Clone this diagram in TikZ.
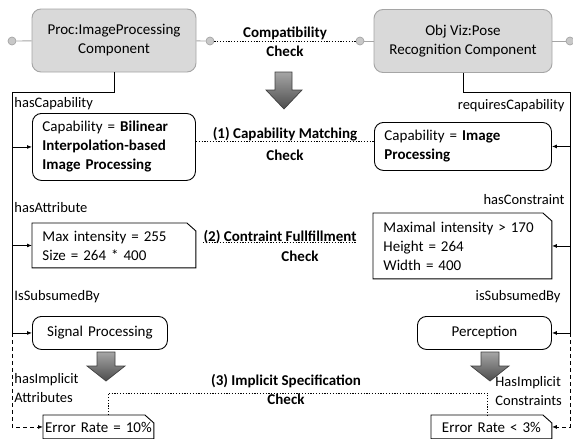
\documentclass[tikz,border=0pt]{standalone}
\usepackage{fontspec}
\setmainfont{Carlito}
\usepackage{tikz}
\usetikzlibrary{arrows.meta,positioning}
\definecolor{compfill}{RGB}{217,217,217}
\definecolor{compedge}{RGB}{165,165,165}
\definecolor{pinfill}{RGB}{200,200,200}

% snipped-corner outline round a node
\newcommand{\snipbox}[1]{%
  \draw (#1.north west) -- ([xshift=-9pt]#1.north east) -- ([yshift=-8pt]#1.north east)
    -- (#1.south east) -- (#1.south west) -- cycle;}

\begin{document}
\begin{tikzpicture}[x=1pt, y=-1pt, line width=0.9pt,
    every node/.style={font=\fontsize{15}{19}\selectfont, inner sep=0pt},
    comp/.style={draw=compedge, fill=compfill, rounded corners=9pt, align=center,
      minimum width=#1, minimum height=63pt},
    pin/.style={circle, draw=compedge, fill=pinfill, line width=0.7pt, minimum size=8pt},
    gline/.style={draw=compedge},
    dots/.style={dash pattern=on 1.2pt off 1.6pt},
    dashline/.style={dash pattern=on 4pt off 3pt},
    box/.style={anchor=north west, align=left, inner xsep=10pt, text width=#1},
    rbox/.style={box=#1, draw, rounded corners=9pt},
    errbox/.style={anchor=north west, align=center, text width=#1, minimum height=23pt},
    rel/.style={font=\fontsize{14.5}{19}\selectfont},
    chk/.style={font=\bfseries\fontsize{15}{19}\selectfont, align=center},
    hook/.style={-{Latex[length=5pt,width=4pt]}},
    bigarrow/.style={draw=black!75, line width=0.7pt, top color=black!35, bottom color=black!70}]

  \useasboundingbox (0,0) rectangle (573,439);

  % ── Components and compatibility check ─────────────────────────────────
  \node[comp=164] (proc) at (114,40.5) {Proc:ImageProcessing\\Component};
  \node[comp=178] (viz) at (463,41) {Obj Viz:Pose\\Recognition Component};
  \node[pin] (pinA) at (12,41) {};
  \node[pin] (pinB) at (210,41) {};
  \node[pin] (pinC) at (360,41) {};
  \node[pin] (pinD) at (570,41) {};
  \draw[gline] (pinA) -- (proc);
  \draw[gline] (proc) -- (pinB);
  \draw[dots] (pinB) -- (pinC);
  \draw[gline] (pinC) -- (viz);
  \draw[gline] (viz) -- (pinD);
  \node[chk] (compat) at (285,42) {Compatibility\\Check};
  \draw[bigarrow] (275,72) -- (292,72) -- (292,90) -- (302,90) -- (284,109) -- (266,90) -- (275,90) -- cycle;

  % ── Left side: provided capability ─────────────────────────────────────
  \node[rbox=143, minimum height=67pt] (capL) at (32,113)
    {Capability = \textbf{Bilinear}\\\textbf{Interpolation-based}\\\textbf{Image Processing}};
  \node[box=143, minimum height=44pt] (attrL) at (32,223) {Max intensity = 255\\Size = 264 * 400};
  \snipbox{attrL}
  \node[rbox=115, align=center, minimum height=33pt] (sig) at (32,316) {Signal Processing};
  \node[errbox=110] (errL) at (43,415) {Error Rate = 10\%};
  \snipbox{errL}
  \draw[bigarrow] (97,352) -- (115,352) -- (115,366) -- (125,366) -- (106,381) -- (87,366) -- (97,366) -- cycle;

  \node[rel, anchor=west] (hcap) at (14,104) {hasCapability};
  \node[rel, anchor=west] (hattr) at (14,208) {hasAttribute};
  \node[rel, anchor=west] (hsubL) at (14,297) {IsSubsumedBy};
  \node[rel, anchor=west, align=left] (himpL) at (14,388) {hasImplicit\\Attributes};

  \coordinate (lbend) at (12,92);
  \draw (proc.south) |- (lbend) -- (lbend |- sig.west);
  \draw[hook] (lbend |- capL.west) -- (capL);
  \draw[hook] (lbend |- attrL.west) -- (attrL);
  \draw[hook] (lbend |- sig.west) -- (sig);
  \draw[hook, dashline] (lbend |- sig.west) |- (errL);

  % ── Right side: required capability ────────────────────────────────────
  \node[rbox=157, minimum height=48pt] (capR) at (374,122) {Capability = \textbf{Image}\\\textbf{Processing}};
  \node[box=158, minimum height=65pt] (conR) at (373,213) {Maximal intensity > 170\\Height = 264\\Width = 400};
  \snipbox{conR}
  \node[rbox=114, align=center, minimum height=33pt] (perc) at (417,316) {Perception};
  \node[errbox=120] (errR) at (431,415) {Error Rate < 3\%};
  \snipbox{errR}
  \draw[bigarrow] (481,352) -- (499,352) -- (499,366) -- (509,366) -- (490,381) -- (471,366) -- (481,366) -- cycle;

  \node[rel, anchor=east] (rcap) at (565,106) {requiresCapability};
  \node[rel, anchor=east] (hcon) at (565,200) {hasConstraint};
  \node[rel, anchor=east] (hsubR) at (561,297) {isSubsumedBy};
  \node[rel, anchor=west, align=left] (himpR) at (495,391) {HasImplicit\\Constraints};

  \coordinate (rbend) at (570,92);
  \draw (viz.south) |- (rbend) -- (rbend |- perc.east);
  \draw[hook] (rbend |- capR.east) -- (capR);
  \draw[hook] (rbend |- conR.east) -- (conR);
  \draw[hook] (rbend |- perc.east) -- (perc);
  \draw[hook, dashline] (rbend |- perc.east) |- (errR);

  % ── Checks between the two sides ───────────────────────────────────────
  \coordinate (m1) at ([yshift=5.5pt]capL.east);
  \draw[dots] (m1) -- (m1 -| capR.west);
  \node[chk] (match) at (285,144) {(1) Capability Matching\\[3pt]Check};

  \node[chk] (fulfil) at (280,237) {(2) Contraint Fullfillment};
  \node[chk] (fulfilchk) at (300,256) {Check};
  \draw[dots] ([yshift=-1.5pt]fulfil.base west) -- ([yshift=-1.5pt]fulfil.base east);

  \draw[dots] ([xshift=10pt]errL.north) -- ++(0,-22) -| ([xshift=-4pt]errR.north);
  \node[chk] (implicit) at (286,389) {(3) Implicit Specification\\Check};
\end{tikzpicture}
\end{document}
